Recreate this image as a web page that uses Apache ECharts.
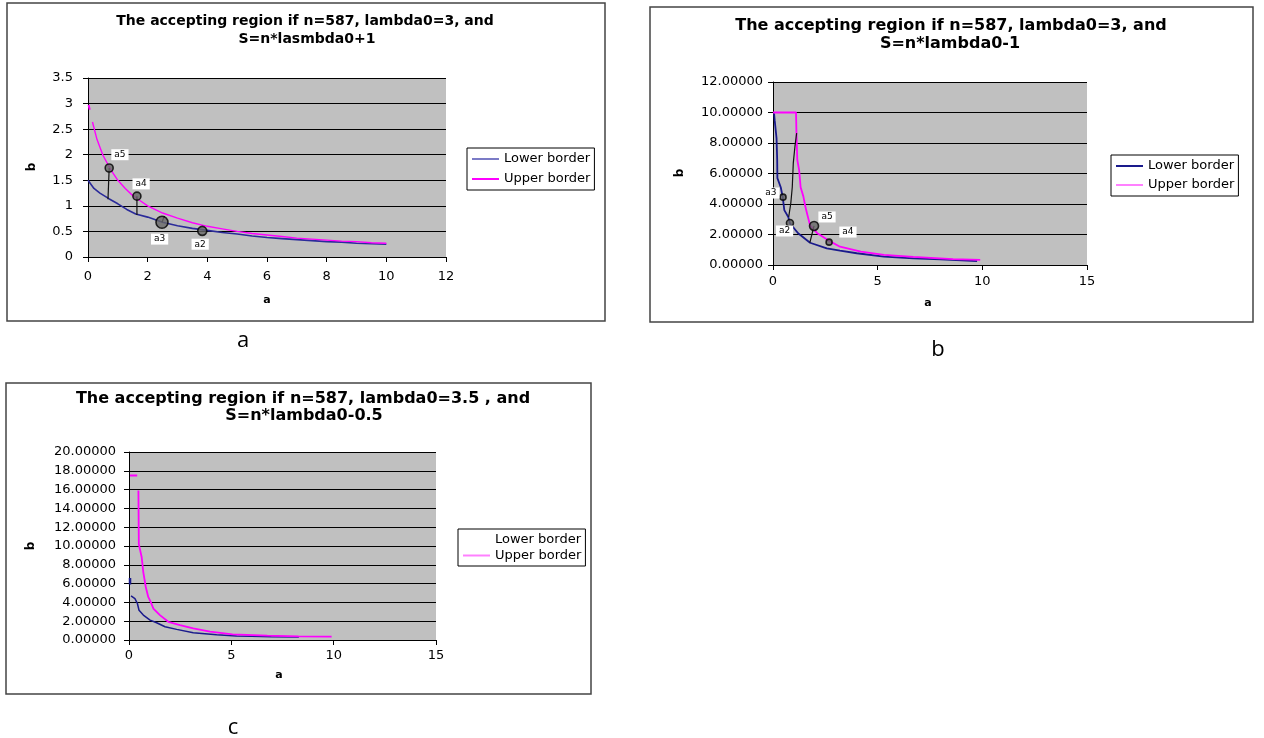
<!DOCTYPE html>
<html>
<head>
<meta charset="utf-8">
<script src="https://cdn.jsdelivr.net/npm/echarts@6.0.0/dist/echarts.min.js"></script>
<style>
html,body{margin:0;padding:0;background:#fff;}
#chart{width:1264px;height:738px;}
</style>
</head>
<body>
<div id="chart"></div>
<script>
// ---------------- DATA ----------------
// Chart a : n=587, lambda0=3, S=n*lambda0+1
const aTitle1 = 'The accepting region if n=587, lambda0=3, and';
const aTitle2 = 'S=n*lasmbda0+1';
const aXRange = [0, 12, 2];
const aYRange = [0, 3.5, 0.5];
const aUpperTop = [[0.02, 2.97], [0.06, 2.88]];
const aUpper = [[0.15, 2.64], [0.3, 2.3], [0.5, 1.99], [0.75, 1.72], [1, 1.5], [1.25, 1.34], [1.5, 1.2], [1.75, 1.1], [2, 1.0], [2.5, 0.86], [3, 0.76], [3.5, 0.67], [4, 0.6], [4.5, 0.55], [5, 0.5], [5.5, 0.46], [6, 0.43], [6.5, 0.4], [7, 0.37], [7.5, 0.35], [8, 0.33], [8.5, 0.31], [9, 0.3], [9.5, 0.28], [10, 0.27]];
const aLower = [[0, 1.5], [0.2, 1.34], [0.4, 1.25], [0.7, 1.14], [1, 1.04], [1.3, 0.93], [1.6, 0.84], [2, 0.78], [2.5, 0.68], [3, 0.61], [3.5, 0.56], [4, 0.52], [4.5, 0.48], [5, 0.45], [5.5, 0.41], [6, 0.38], [6.5, 0.36], [7, 0.34], [7.5, 0.32], [8, 0.3], [8.5, 0.29], [9, 0.27], [9.5, 0.26], [10, 0.25]];
const aMarkNames = ['a5', 'a4', 'a3', 'a2'];
const aMarkPoints = [[0.71, 1.74], [1.64, 1.19], [2.48, 0.68], [3.83, 0.51]];
const aMarkLabels = [[1.07, 2.0], [1.78, 1.43], [2.4, 0.35], [3.76, 0.25]];
const aConnectors = [[[0.71, 1.74], [0.67, 1.13]], [[1.64, 1.19], [1.64, 0.82]], [[2.48, 0.68], [2.56, 0.8]]];

// Chart b : n=587, lambda0=3, S=n*lambda0-1
const bTitle1 = 'The accepting region if n=587, lambda0=3, and';
const bTitle2 = 'S=n*lambda0-1';
const bXRange = [0, 15, 5];
const bYRange = [0, 12, 2];
const bUpper = [[0, 10], [1.1, 10], [1.12, 8.7], [1.16, 6.9], [1.25, 6.2], [1.32, 5.1], [1.45, 4.5], [1.55, 3.8], [1.66, 3.2], [1.77, 2.6], [2.1, 2.1], [2.6, 1.65], [3.2, 1.2], [4.2, 0.87], [5.3, 0.66], [6.7, 0.53], [8.6, 0.38], [9.9, 0.33]];
const bLower = [[0.05, 9.95], [0.08, 9.5], [0.17, 8.3], [0.2, 6.9], [0.21, 5.7], [0.37, 5.1], [0.46, 4.5], [0.54, 3.6], [0.73, 3.15], [0.81, 2.73], [1.2, 2.08], [1.77, 1.46], [2.57, 1.09], [3.2, 0.94], [4, 0.77], [5.3, 0.55], [6.7, 0.44], [8, 0.37], [9.75, 0.26]];
const bMarkNames = ['a3', 'a2', 'a5', 'a4'];
const bMarkPoints = [[0.48, 4.45], [0.81, 2.75], [1.96, 2.56], [2.68, 1.5]];
const bMarkLabels = [[-0.1, 4.72], [0.55, 2.23], [2.58, 3.15], [3.58, 2.16]];
const bConnectors = [[[0.75, 3.15], [0.85, 4.05], [0.92, 5.1], [0.97, 6.7], [1.05, 7.8], [1.13, 8.65]], [[1.96, 2.56], [1.76, 1.47]]];

// Chart c : n=587, lambda0=3.5, S=n*lambda0-0.5
const cTitle1 = 'The accepting region if n=587, lambda0=3.5 , and';
const cTitle2 = 'S=n*lambda0-0.5';
const cXRange = [0, 15, 5];
const cYRange = [0, 20, 2];
const cUpperTop = [[0.05, 17.5], [0.4, 17.5]];
const cUpper = [[0.46, 15.9], [0.48, 10.2], [0.57, 10.05], [0.62, 8.8], [0.7, 7.2], [0.82, 5.64], [0.94, 4.58], [1.06, 4.05], [1.19, 3.35], [1.51, 2.65], [1.92, 1.94], [2.49, 1.59], [3.14, 1.23], [3.96, 0.88], [5.06, 0.6], [6.76, 0.46], [8.28, 0.38], [9.9, 0.35]];
const cLowerTop = [[0.05, 6.6], [0.05, 5.9]];
const cLower = [[0.1, 4.7], [0.29, 4.41], [0.41, 3.88], [0.49, 3.17], [0.7, 2.65], [1.03, 2.12], [1.35, 1.83], [1.76, 1.41], [2.33, 1.13], [3.14, 0.78], [4.28, 0.55], [5.26, 0.42], [6, 0.4], [6.95, 0.35], [8.3, 0.32]];

const legendNames = ['Lower border', 'Upper border'];
const captions = ['a', 'b', 'c'];
const axisNameX = 'a';
const axisNameY = 'b';

// ---------------- STYLE / LAYOUT ----------------
const FONT = 'DejaVu Sans';
const NAVY = '#1a1a8c';
const MAGENTA = '#ff00ff';

const grids = [
  {left: 88, top: 78, width: 358, height: 179},
  {left: 773, top: 82, width: 314, height: 183},
  {left: 129, top: 452, width: 307, height: 188}
];

function xAxis(idx, r, margin) {
  return {
    gridIndex: idx, type: 'value', min: r[0], max: r[1], interval: r[2],
    axisLine: {show: true, onZero: false, lineStyle: {color: '#000', width: 1}},
    axisTick: {show: true, length: 5, lineStyle: {color: '#000'}},
    axisLabel: {color: '#000', fontFamily: FONT, fontSize: 13, margin: margin},
    splitLine: {show: false}
  };
}
function yAxis(idx, r, fmt, margin) {
  return {
    gridIndex: idx, type: 'value', min: r[0], max: r[1], interval: r[2],
    axisLine: {show: true, onZero: false, lineStyle: {color: '#000', width: 1}},
    axisTick: {show: true, length: 5, lineStyle: {color: '#000'}},
    axisLabel: {color: '#000', fontFamily: FONT, fontSize: 13, margin: margin, formatter: fmt},
    splitLine: {show: true, lineStyle: {color: '#000', width: 1}}
  };
}
function line(name, data, idx, color, width) {
  return {
    name: name, type: 'line', xAxisIndex: idx, yAxisIndex: idx, data: data,
    symbol: 'none', silent: true, clip: false,
    lineStyle: {color: color, width: width}, itemStyle: {color: color}
  };
}
function connectors(list, idx) {
  return list.map(function (pts) {
    return {type: 'line', xAxisIndex: idx, yAxisIndex: idx, data: pts, symbol: 'none', silent: true,
      lineStyle: {color: '#111', width: 1.2}, z: 4};
  });
}
function dots(pts, idx, sizes) {
  return {
    type: 'scatter', xAxisIndex: idx, yAxisIndex: idx, silent: true, z: 5,
    data: pts.map(function (p, i) { return {value: p, symbolSize: sizes[i]}; }),
    itemStyle: {color: '#666', borderColor: '#000', borderWidth: 1.6}
  };
}
function tags(pts, names, idx) {
  return {
    type: 'scatter', xAxisIndex: idx, yAxisIndex: idx, silent: true, z: 6, clip: false,
    symbol: 'circle', symbolSize: 1, itemStyle: {color: 'rgba(0,0,0,0)'},
    data: pts.map(function (p, i) { return {value: p, name: names[i]}; }),
    label: {show: true, position: 'inside', formatter: '{b}', color: '#000', fontFamily: FONT, fontSize: 9,
      backgroundColor: '#fff', padding: [1, 3, 1, 3], opacity: 1}
  };
}
function legend(left, top, gap, lowerColor, upperColor, lh) {
  return {
    left: left, top: top, orient: 'vertical', icon: 'rect', itemWidth: 27, itemHeight: 2,
    itemGap: gap, padding: [4, 4, 4, 5], borderColor: '#000', borderWidth: 1,
    selectedMode: false,
    textStyle: {fontFamily: FONT, fontSize: 13, color: '#000', lineHeight: lh},
    data: [
      {name: legendNames[0], itemStyle: {color: lowerColor}},
      {name: legendNames[1], itemStyle: {color: upperColor}}
    ]
  };
}
function txt(str, x, y, size, weight, rot, family) {
  return {
    type: 'text', x: x, y: y, rotation: rot || 0, silent: true,
    style: {text: str, fontFamily: family || FONT, fontSize: size, fontWeight: weight || 'normal',
      fill: '#000', align: 'center', verticalAlign: 'middle'}
  };
}
function box(x, y, w, h) {
  return {type: 'rect', shape: {x: x, y: y, width: w, height: h}, silent: true, z: -1,
    style: {fill: 'none', stroke: '#444', lineWidth: 1.5}};
}

const fmt5 = function (v) { return v.toFixed(5); };

const option = {
  backgroundColor: '#fff',
  animation: false,
  grid: grids.map(function (g) {
    return Object.assign({show: true, backgroundColor: '#c0c0c0', borderWidth: 0}, g);
  }),
  xAxis: [xAxis(0, aXRange, 13), xAxis(1, bXRange, 10), xAxis(2, cXRange, 9)],
  yAxis: [yAxis(0, aYRange, null, 15), yAxis(1, bYRange, fmt5, 10), yAxis(2, cYRange, fmt5, 13)],
  legend: [
    legend(467, 148, 6, '#7b7bc6', MAGENTA, 14),
    legend(1111, 155, 5, NAVY, '#ff80ff', 14),
    legend(458, 529, 3, 'rgba(0,0,0,0)', '#ff80ff', 13)
  ],
  series: [].concat(
    [line(legendNames[0], aLower, 0, '#2b2b9a', 1.6),
     line(legendNames[1], aUpperTop, 0, MAGENTA, 2),
     line(legendNames[1], aUpper, 0, MAGENTA, 1.4)],
    connectors(aConnectors, 0),
    [dots(aMarkPoints, 0, [8, 8, 12, 9]), tags(aMarkLabels, aMarkNames, 0)],
    [line(legendNames[0], bLower, 1, NAVY, 1.8),
     line(legendNames[1], bUpper, 1, MAGENTA, 1.8)],
    connectors(bConnectors, 1),
    [dots(bMarkPoints, 1, [6, 7, 9, 6]), tags(bMarkLabels, bMarkNames, 1)],
    [line(legendNames[0], cLowerTop, 2, NAVY, 2.5),
     line(legendNames[0], cLower, 2, NAVY, 1.5),
     line(legendNames[1], cUpperTop, 2, MAGENTA, 2),
     line(legendNames[1], cUpper, 2, MAGENTA, 1.8)]
  ),
  graphic: {
    elements: [
      box(7, 3, 598, 318),
      box(650, 7, 603, 315),
      box(6, 383, 585, 311),
      txt(aTitle1, 305, 21, 14, 'bold'),
      txt(aTitle2, 307, 39, 14, 'bold'),
      txt(bTitle1, 951, 26, 16, 'bold'),
      txt(bTitle2, 950, 44, 16, 'bold'),
      txt(cTitle1, 303, 399, 16, 'bold'),
      txt(cTitle2, 304, 416, 16, 'bold'),
      txt(axisNameY, 32, 167, 12, 'bold', Math.PI / 2),
      txt(axisNameX, 267, 300, 11, 'bold'),
      txt(axisNameY, 680, 173, 12, 'bold', Math.PI / 2),
      txt(axisNameX, 928, 303, 11, 'bold'),
      txt(axisNameY, 31, 546, 12, 'bold', Math.PI / 2),
      txt(axisNameX, 279, 675, 11, 'bold'),
      txt(captions[0], 243, 341, 22, 'normal', 0, 'Open Sans'),
      txt(captions[1], 938, 350, 22, 'normal', 0, 'Open Sans'),
      txt(captions[2], 233, 728, 22, 'normal', 0, 'Open Sans')
    ]
  }
};

const chart = echarts.init(document.getElementById('chart'));
chart.setOption(option);
</script>
</body>
</html>
